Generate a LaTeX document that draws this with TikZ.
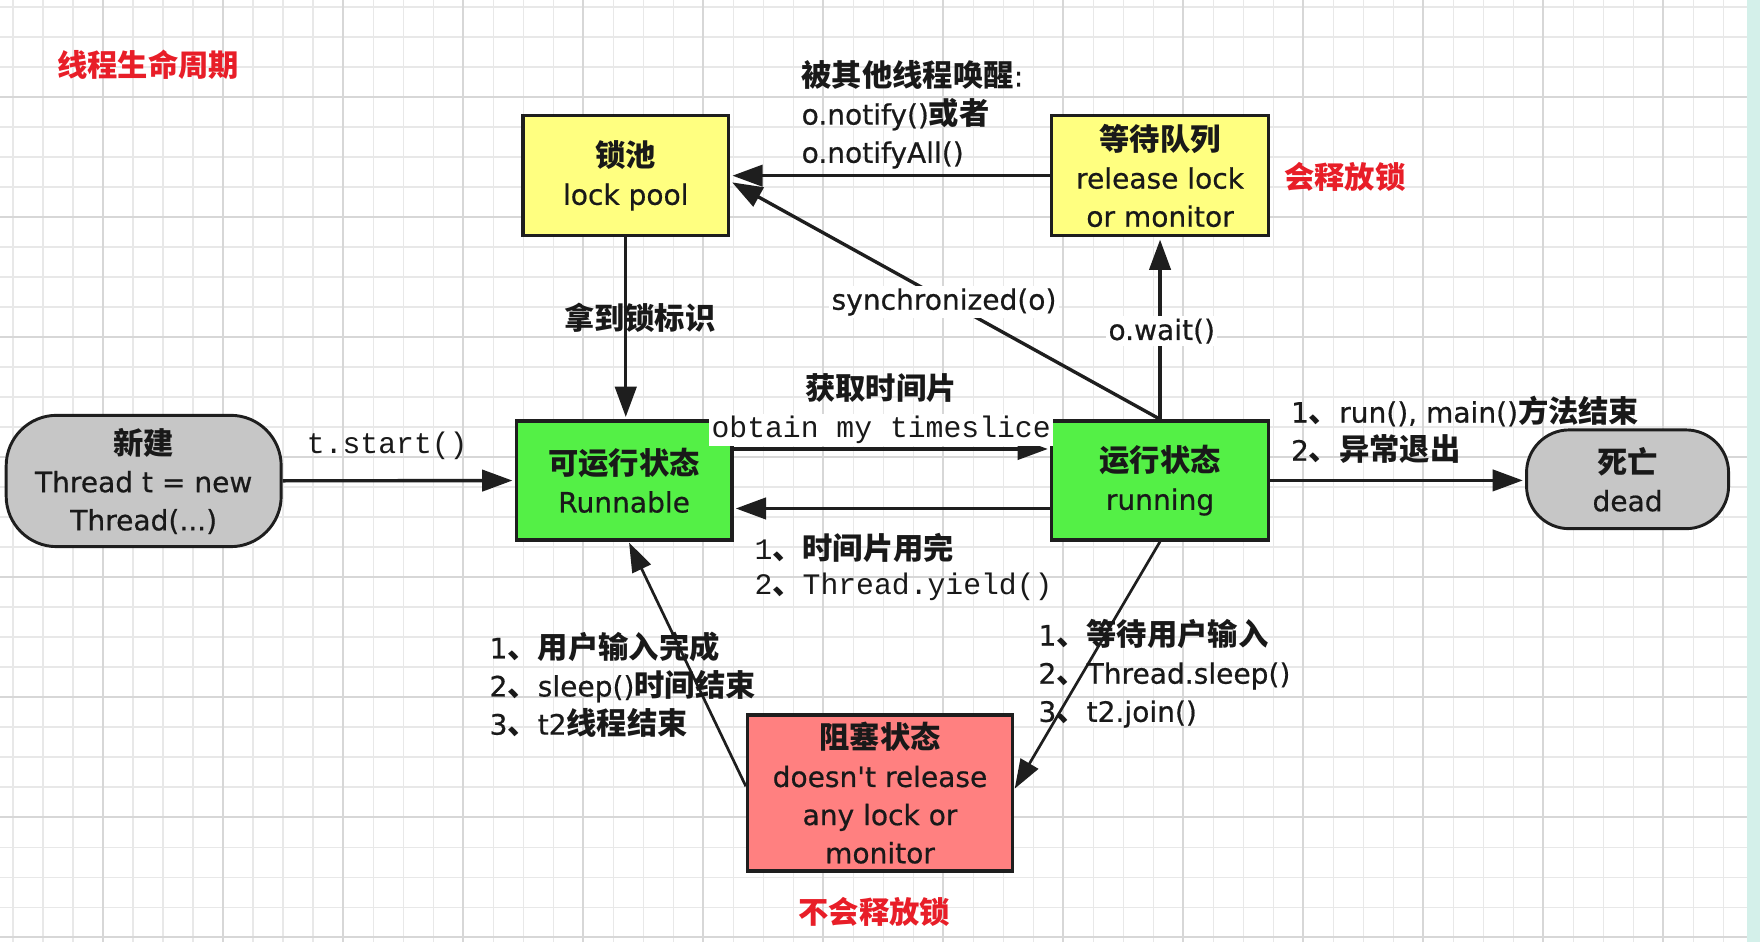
\documentclass[tikz,border=0pt]{standalone}
\usepackage{fontspec}
\setmainfont{DejaVu Sans}[FakeBold=0.6]
\newfontfamily\zhfam{Noto Sans CJK SC}[Scale=1.08]
\newfontfamily\mofam{Liberation Mono}[Scale=1.06]
\usetikzlibrary{arrows.meta}
\newcommand\zh[1]{{\zhfam\bfseries #1}}
\newcommand\mo[1]{{\mofam #1}}
\definecolor{gmin}{RGB}{232,232,232}
\definecolor{gmaj}{RGB}{215,215,215}
\definecolor{strip}{RGB}{212,240,234}
\definecolor{lc}{RGB}{30,30,30}
\definecolor{txt}{RGB}{25,25,25}
\definecolor{ylw}{RGB}{255,255,128}
\definecolor{grn}{RGB}{84,240,70}
\definecolor{gry}{RGB}{198,198,198}
\definecolor{pnk}{RGB}{255,128,128}
\definecolor{redtxt}{RGB}{232,30,40}
\tikzset{
  box/.style={draw=lc, line width=3pt, align=center, inner sep=0pt, text=txt},
  roundbox/.style={box, line width=2.6pt},
  arr/.style={draw=lc, line width=3pt, -{Triangle[length=27pt,width=19pt]}, shorten >=2pt},
  arrthin/.style={draw=lc, line width=2.4pt, -{Triangle[length=26pt,width=18pt]}, shorten >=1pt},
  lab/.style={inner sep=0pt, text=txt},
  onlink/.style={lab, fill=white, inner sep=2pt},
  redlab/.style={inner sep=0pt, text=redtxt},
  minline/.style={draw=gmin, line width=1pt},
  majline/.style={draw=gmaj, line width=1.3pt}
}
\begin{document}
\begin{tikzpicture}[x=1pt,y=-1pt,font=\fontsize{25}{34}\selectfont]
\fill[white] (0,0) rectangle (1568,839);
\useasboundingbox (0,0) rectangle (1568,839);
% grid
\foreach \i in {0,...,58} \draw[minline] ({11.6+26.73*\i},0) -- ({11.6+26.73*\i},839);
\foreach \i in {0,...,31} \draw[minline] (0,{6.2+26.73*\i}) -- (1568,{6.2+26.73*\i});
\foreach \i in {0,...,13} \draw[majline] ({91.8+106.92*\i},0) -- ({91.8+106.92*\i},839);
\foreach \i in {0,...,7} \draw[majline] (0,{86.4+106.92*\i}) -- (1568,{86.4+106.92*\i});
\fill[strip] (1556,0) rectangle (1568,839);

% title
\node[redlab] (title) at (132,58) {\zh{线程生命周期}};

% states
\node[roundbox, fill=gry, minimum width=245pt, minimum height=117pt, rounded corners=45pt] (new) at (128,428.5)
  {\zh{新建}\\Thread t = new\\Thread(...)};
\node[box, fill=ylw, minimum width=183pt, minimum height=107pt] (lockpool) at (557.5,156.5)
  {\zh{锁池}\\lock pool};
\node[box, fill=ylw, minimum width=193pt, minimum height=107pt] (waitq) at (1033.5,156.5)
  {\zh{等待队列}\\release lock\\or monitor};
\node[box, fill=grn, minimum width=192pt, minimum height=106pt] (runnable) at (556,428)
  {\zh{可运行状态}\\Runnable};
\node[box, fill=grn, minimum width=193pt, minimum height=106pt] (running) at (1033.5,428)
  {\zh{运行状态}\\running};
\node[roundbox, fill=gry, minimum width=180pt, minimum height=88pt, rounded corners=38pt] (dead) at (1450,427)
  {\zh{死亡}\\dead};
\node[box, fill=pnk, minimum width=236pt, minimum height=139pt] (blocked) at (784,706.5)
  {\zh{阻塞状态}\\doesn\textquotesingle t release\\any lock or\\monitor};

% connectors
\draw[arr] (new) -- (runnable);
\draw[arr] ([yshift=28pt]runnable.east) -- ([yshift=28pt]running.west);
\draw[arr] ([yshift=-25pt]running.west) -- ([yshift=-25pt]runnable.east);
\draw[arr] (lockpool.south) -- (lockpool.south |- runnable.north);
\draw[arr] (running.north) -- (running.north |- waitq.south);
\draw[arr] (waitq.west) -- (waitq.west -| lockpool.east);
\draw[arr] (running.north) -- ([yshift=-5pt]lockpool.east);
\draw[arr] (running.east) -- (running.east -| dead.west);
\draw[arrthin] (running.south) -- ([yshift=3pt]blocked.east);
\draw[arrthin] ([yshift=6pt]blocked.west) -- ([xshift=4pt]runnable.south);

% labels
\node[lab] (lstart) at (345,397) {\mo{t.start()}};
\node[lab] (lget) at (785,346) {\zh{获取时间片}};
\node[onlink] (lobtain) at (785,383) {\mo{obtain my timeslice}};
\node[lab, anchor=west] (lused) at (672,488) {\mo{1}\zh{、时间片用完}};
\node[lab, anchor=west] (lyield) at (672,523) {\mo{2}\zh{、}\mo{Thread.yield()}};
\node[lab] (lflag) at (570,283) {\zh{拿到锁标识}};
\node[onlink] (lsync) at (841,269) {synchronized(o)};
\node[onlink] (lwait) at (1035,295) {o.wait()};
\node[lab, anchor=west, align=left] (lnotify) at (714,102)
  {\zh{被其他线程唤醒}:\\o.notify()\zh{或者}\\o.notifyAll()};
\node[redlab] (lrel) at (1198,158) {\zh{会释放锁}};
\node[lab, anchor=west, align=left] (lend) at (1150,383)
  {1\zh{、}run(), main()\zh{方法结束}\\2\zh{、异常退出}};
\node[lab, anchor=west, align=left] (lback) at (436,610)
  {1\zh{、用户输入完成}\\2\zh{、}sleep()\zh{时间结束}\\3\zh{、}t2\zh{线程结束}};
\node[lab, anchor=west, align=left] (lblock) at (925,600)
  {1\zh{、等待用户输入}\\2\zh{、}Thread.sleep()\\3\zh{、}t2.join()};
\node[redlab] (lnorel) at (779,812) {\zh{不会释放锁}};
\end{tikzpicture}
\end{document}
